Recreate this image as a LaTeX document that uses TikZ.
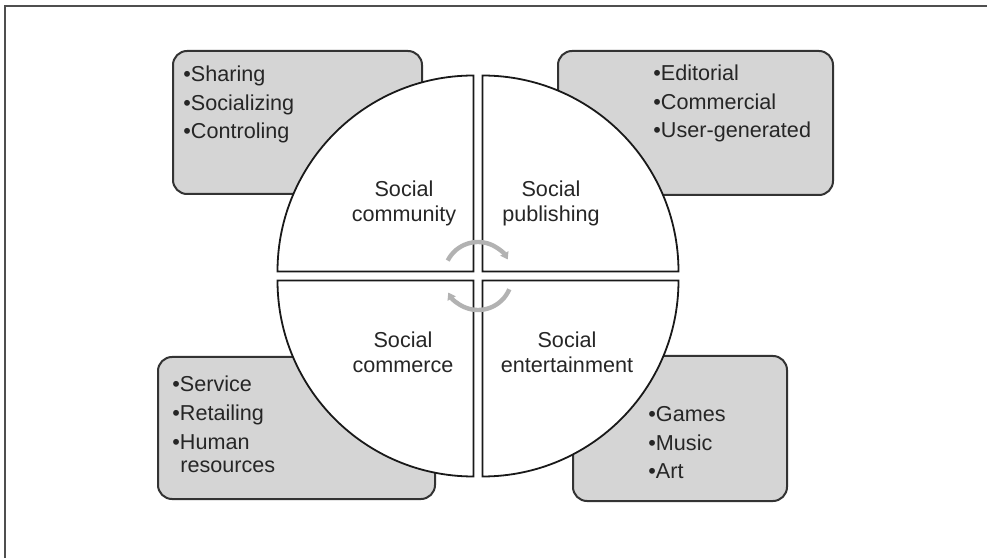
\documentclass[tikz,border=0pt]{standalone}
\usepackage{fontspec}
\setmainfont{Liberation Sans}
\usetikzlibrary{arrows.meta}

\definecolor{boxgray}{HTML}{D5D5D5}
\definecolor{turngray}{HTML}{B2B2B2}
\definecolor{framegray}{HTML}{4F4F4F}

\tikzset{
  listbox/.style={draw=black!80, line width=1pt, fill=boxgray, rounded corners=7pt},
  quarter/.style={draw=black!90, line width=0.9pt, fill=white},
  item/.style={anchor=base west, inner sep=0pt, text=black!85, font=\fontsize{10.8}{12.5}\selectfont},
  qtext/.style={anchor=base, inner sep=0pt, align=center, text=black!85, font=\fontsize{10.8}{12.5}\selectfont},
  turn/.style={draw=turngray, line width=2.2pt}
}

\begin{document}
\begin{tikzpicture}[x=0.5pt,y=0.5pt]
\useasboundingbox (0,0) rectangle (987,558);
  % Draw frame
  \draw[framegray, line width=1pt] (5,0) -- (5,552) -- (987,552);
  % Draw list boxes
  \draw[listbox] (173,364) rectangle (422,507);
  \draw[listbox] (558,363) rectangle (833,507);
  \draw[listbox] (158,59) rectangle (435,201);
  \draw[listbox] (573,57) rectangle (787,202);
  % Draw the four quarters
  \foreach \a/\dx/\dy in {0/1/1,90/-1/1,180/-1/-1,270/1/-1}
    \draw[quarter, shift={(478+4.5*\dx,282+4.5*\dy)}] (0,0) -- (\a:196)
          arc[start angle=\a, end angle=\a+90, radius=196] -- cycle;
  % Draw turning arrows
  \draw[turn, -{Triangle[length=3.5pt,width=4.5pt]}] (478,282) ++(153:34)
        arc[start angle=153, end angle=29, radius=34];
  \draw[turn, -{Triangle[length=3.5pt,width=4.5pt]}] (478,282) ++(337:34)
        arc[start angle=337, end angle=209, radius=34];
  % Draw quarter labels (base = last line)
  \node[qtext] (community) at (404,336) {Social\\community};
  \node[qtext] (publishing) at (551,336) {Social\\publishing};
  \node[qtext] (commerce) at (403,185) {Social\\commerce};
  \node[qtext] (entertainment) at (567,185) {Social\\entertainment};
  % Draw list items
  \foreach \t [count=\i] in {Sharing,Socializing,Controling}
    \node[item] (tl\i) at (183,{504.5-28.5*\i}) {\textbullet\t};
  \foreach \t [count=\i] in {Editorial,Commercial,User-generated}
    \node[item] (tr\i) at (653,{505.5-28.5*\i}) {\textbullet\t};
  \foreach \t [count=\i] in {Service,Retailing,Human}
    \node[item] (bl\i) at (172,{194.5-28.5*\i}) {\textbullet\t};
  \node[item] (bl4) at (180,85) {resources};
  \foreach \t [count=\i] in {Games,Music,Art}
    \node[item] (br\i) at (648,{164.5-28.5*\i}) {\textbullet\t};
\end{tikzpicture}
\end{document}
